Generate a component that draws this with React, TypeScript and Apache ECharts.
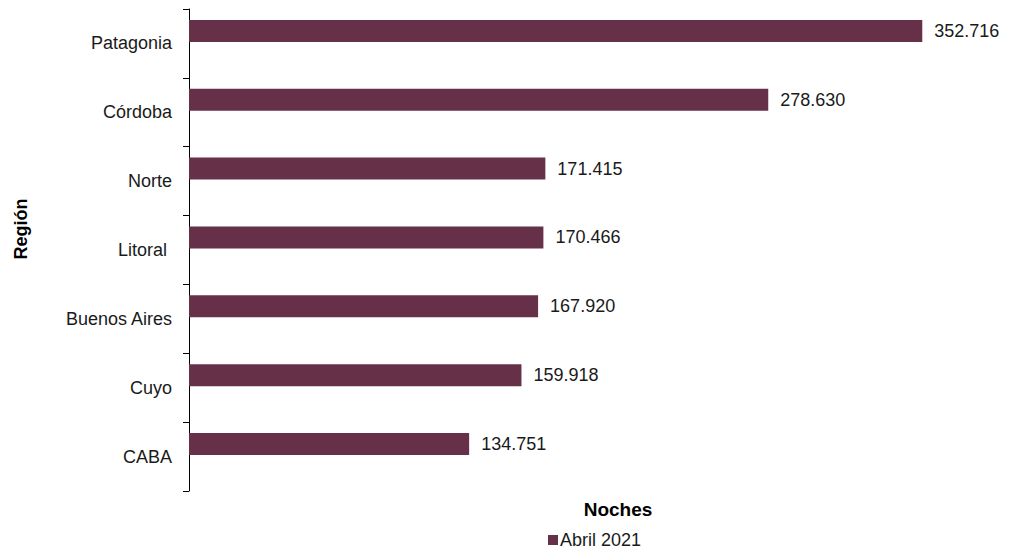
import React, { useEffect, useRef } from "react";
import * as echarts from "echarts";

const categories = ["Patagonia", "Córdoba", "Norte", "Litoral ", "Buenos Aires", "Cuyo", "CABA"];
const values = [352716, 278630, 171415, 170466, 167920, 159918, 134751];
const seriesName = "Abril 2021";
const xAxisName = "Noches";
const yAxisName = "Región";

const FONT = "'Liberation Sans', Arial, Helvetica, sans-serif";

function fmt(v: number): string {
  return String(Math.round(v)).replace(/\B(?=(\d{3})+(?!\d))/g, ".");
}

export default function App() {
  const ref = useRef<HTMLDivElement>(null);
  useEffect(() => {
    if (!ref.current) return;
    const chart = echarts.init(ref.current, undefined, { renderer: "svg" });
    chart.setOption({
      animation: false,
      backgroundColor: "#ffffff",
      textStyle: { fontFamily: FONT },
      grid: { left: 189, top: 9, height: 482, right: 34, containLabel: false },
      legend: {
        data: [seriesName],
        left: 548,
        top: 531,
        icon: "rect",
        itemWidth: 10,
        itemHeight: 10,
        itemGap: 10,
        padding: 0,
        textStyle: { fontSize: 18, color: "#1a1a1a", fontFamily: FONT, padding: [0, 0, 0, -3] },
      },
      xAxis: {
        type: "value",
        min: 0,
        max: 380000,
        show: false,
      },
      yAxis: {
        type: "category",
        data: categories,
        inverse: true,
        axisLine: { show: true, lineStyle: { color: "#000000", width: 1 } },
        axisTick: { show: true, length: 6, lineStyle: { color: "#000000" } },
        axisLabel: { fontSize: 18, color: "#1a1a1a", margin: 17, fontFamily: FONT },
        splitLine: { show: false },
      },
      series: [
        {
          name: seriesName,
          type: "bar",
          data: values,
          barWidth: 22,
          barGap: "14%",
          itemStyle: { color: "#663048" },
          label: {
            show: true,
            position: "right",
            distance: 12,
            fontSize: 18,
            color: "#1a1a1a",
            fontFamily: FONT,
            formatter: (p: any) => fmt(p.value),
          },
        },
        {
          name: "_empty",
          type: "bar",
          data: categories.map(() => null),
          barWidth: 22,
          itemStyle: { color: "#ffffff" },
        },
      ],
      graphic: [
        {
          type: "text",
          x: 21,
          y: 229,
          rotation: Math.PI / 2,
          style: {
            text: yAxisName,
            font: `bold 18px ${FONT}`,
            fill: "#000000",
            textAlign: "center",
            textVerticalAlign: "middle",
          },
        },
        {
          type: "text",
          x: 618,
          y: 509,
          style: {
            text: xAxisName,
            font: `bold 19px ${FONT}`,
            fill: "#000000",
            textAlign: "center",
            textVerticalAlign: "middle",
          },
        },
      ],
    });
    return () => chart.dispose();
  }, []);
  return (
    <div
      ref={ref}
      style={{ position: "absolute", left: 0, top: 0, width: 1013, height: 552 }}
    />
  );
}
